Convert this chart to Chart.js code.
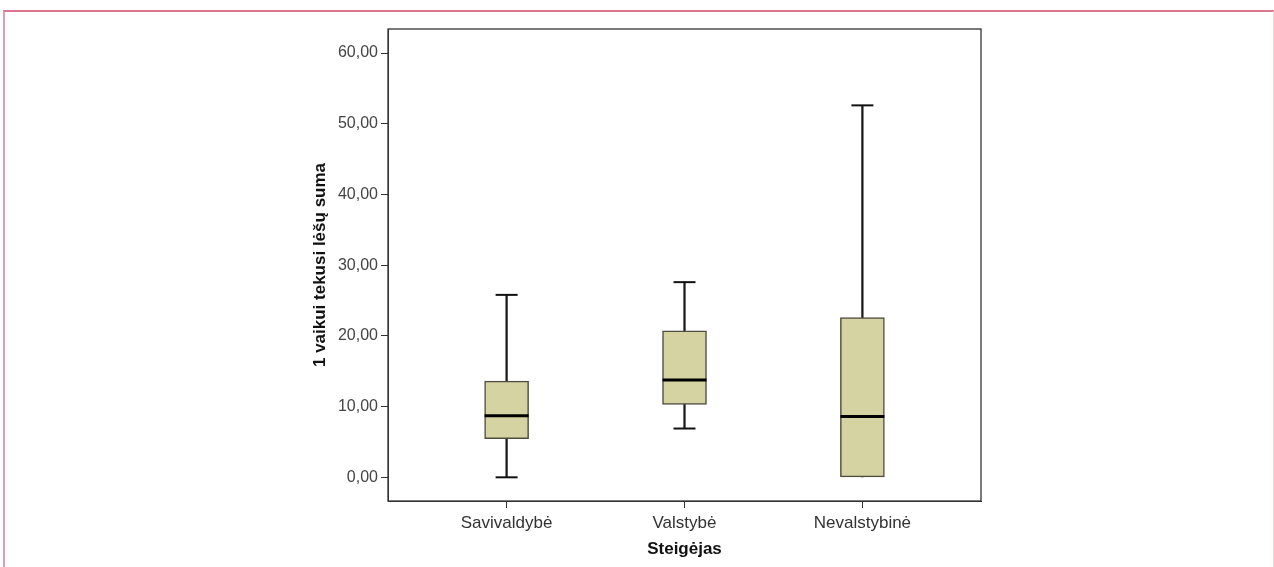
<!DOCTYPE html>
<html>
<head>
<meta charset="utf-8">
<script src="https://cdn.jsdelivr.net/npm/chart.js@4.4.0/dist/chart.umd.min.js"></script>
<style>
  html, body { margin: 0; padding: 0; background: #fff; }
  #frame {
    position: absolute; left: 3px; top: 10px; width: 1268px; height: 557px;
    border-top: 2px solid #dc7590; border-left: 2px solid #e39db0; border-right: 1px solid #f1d3dc;
  }
  #wrap { position: absolute; left: 0; top: 0; width: 1274px; height: 567px; }
</style>
</head>
<body>
<div id="frame"></div>
<div id="wrap"><canvas id="chart" width="1274" height="567"></canvas></div>
<script>
const categories = ['Savivaldybė', 'Valstybė', 'Nevalstybinė'];
const mins = [0, 6.9, 0];
const q1s = [5.45, 10.3, 0];
const medians = [8.7, 13.75, 8.6];
const q3s = [13.6, 20.7, 22.6];
const maxs = [25.8, 27.6, 52.6];

const fmt = (v) => v.toFixed(2).replace('.', ',');

// dark frame round the plot area (top and right sides come from here)
const framePlugin = {
  id: 'frame',
  afterDraw(chart) {
    const { ctx, chartArea: a } = chart;
    ctx.save();
    ctx.strokeStyle = '#333';
    ctx.lineWidth = 1.3;
    ctx.strokeRect(a.left, a.top, a.right - a.left, a.bottom - a.top);
    ctx.restore();
  },
};

// a cap is only drawn where the whisker actually sticks out of the box
const capPoints = [];
categories.forEach((c, i) => {
  if (maxs[i] > q3s[i]) capPoints.push({ x: i, y: maxs[i] });
  if (mins[i] < q1s[i]) capPoints.push({ x: i, y: mins[i] });
});

new Chart(document.getElementById('chart').getContext('2d'), {
  type: 'bar',
  data: {
    datasets: [
      {
        label: 'whisker',
        order: 3,
        grouped: false,
        barThickness: 1.6,
        backgroundColor: '#1a1a1a',
        data: categories.map((c, i) => ({ x: i, y: [mins[i], maxs[i]] })),
      },
      {
        label: 'box',
        order: 2,
        grouped: false,
        barThickness: 44,
        backgroundColor: '#d6d3a2',
        borderColor: '#4f4d40',
        borderWidth: 1.5,
        borderSkipped: false,
        data: categories.map((c, i) => ({ x: i, y: [q1s[i], q3s[i]] })),
      },
      {
        type: 'scatter',
        label: 'caps',
        order: 1,
        pointStyle: 'line',
        radius: 11,
        borderWidth: 2,
        borderColor: '#111',
        data: capPoints,
      },
      {
        type: 'scatter',
        label: 'median',
        order: 0,
        pointStyle: 'line',
        radius: 22,
        borderWidth: 3,
        borderColor: '#000',
        data: categories.map((c, i) => ({ x: i, y: medians[i] })),
      },
    ],
  },
  options: {
    responsive: false,
    animation: false,
    layout: { padding: { left: 306, top: 29, right: 293, bottom: 0 } },
    plugins: { legend: { display: false }, tooltip: { enabled: false } },
    scales: {
      x: {
        type: 'linear',
        offset: false,
        min: -2 / 3,
        max: 8 / 3,
        afterBuildTicks: (s) => { s.ticks = categories.map((c, i) => ({ value: i })); },
        afterFit: (s) => { s.height = 66; },
        grid: { offset: false, drawOnChartArea: false, tickLength: 7, color: '#333' },
        border: { color: '#333' },
        ticks: {
          padding: 5,
          color: '#333',
          font: { family: 'Liberation Sans, Arial', size: 17 },
          callback: (v) => categories[v] ?? '',
        },
        title: {
          display: true,
          text: 'Steigėjas',
          color: '#111',
          padding: { top: 0, bottom: 7 },
          font: { family: 'Liberation Sans, Arial', size: 17, weight: 'bold' },
        },
      },
      y: {
        min: -3.35,
        max: 63.4,
        afterFit: (s) => { s.width = 82; },
        grid: { drawOnChartArea: false, tickLength: 7, color: '#333' },
        border: { color: '#333' },
        ticks: {
          stepSize: 10,
          includeBounds: false,
          padding: 3,
          color: '#444',
          font: { family: 'Liberation Sans, Arial', size: 16 },
          callback: (v) => fmt(v),
        },
        title: {
          display: true,
          text: '1 vaikui tekusi lėšų suma',
          color: '#111',
          padding: { top: 4, bottom: 0 },
          font: { family: 'Liberation Sans, Arial', size: 17, weight: 'bold' },
        },
      },
    },
  },
  plugins: [framePlugin],
});
</script>
</body>
</html>
